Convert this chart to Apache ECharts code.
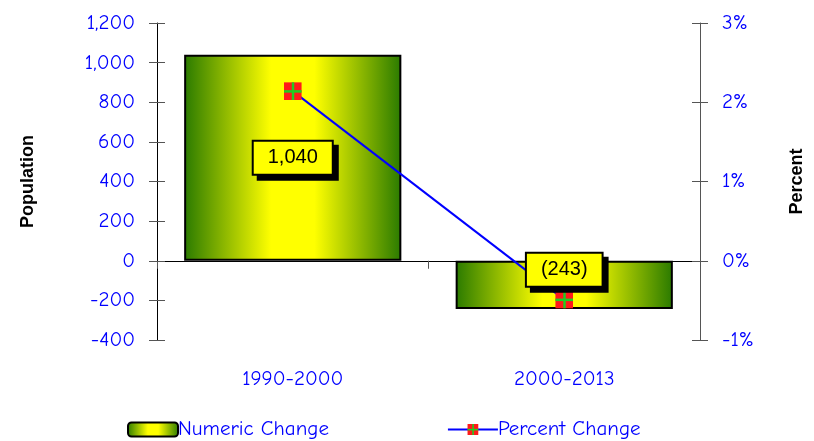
<!DOCTYPE html>
<html><head><meta charset="utf-8">
<script src="https://cdn.jsdelivr.net/npm/echarts@6/dist/echarts.min.js"></script>
<style>html,body{margin:0;padding:0;background:#fff}#c{width:814px;height:441px}</style>
</head><body><div id="c"></div>
<script>
const categories = ['1990-2000', '2000-2013'];
const numericChange = [1040, -243];
const percentChange = [2.14, -0.49];
const popTicks = [-400, 1200, 200];
const pctTicks = [-1, 3, 1];

const FONT = '"Comic Sans MS", "Comic Neue", "DejaVu Sans", sans-serif';
const markerSvg = 'image://data:image/svg+xml;utf8,' + encodeURIComponent(
  '<svg xmlns="http://www.w3.org/2000/svg" width="18" height="18" viewBox="0 0 18 18">' +
  '<rect x="0" y="0" width="18" height="18" fill="#ff1a1a"/>' +
  '<rect x="0" y="8" width="18" height="2.5" fill="#22cc22"/>' +
  '<rect x="8" y="0" width="2.5" height="18" fill="#22cc22"/></svg>');

const barGrad = new echarts.graphic.LinearGradient(0, 0, 1, 0, [
  {offset: 0, color: '#2a7a00'},
  {offset: 0.4, color: '#ffff00'},
  {offset: 0.6, color: '#ffff00'},
  {offset: 1, color: '#2a7a00'}
]);

const fmtNum = v => v < 0 ? '(' + Math.abs(v).toLocaleString('en-US') + ')' : v.toLocaleString('en-US');

const chart = echarts.init(document.getElementById('c'));
chart.setOption({
  animation: false,
  grid: {left: 157, right: 114, top: 23, bottom: 101},
  legend: {
    bottom: -4, left: 122, itemGap: 118, itemWidth: 50, itemHeight: 14,
    textStyle: {color: '#0000ff', fontSize: 21, fontFamily: FONT, padding: [0,0,0,-5]},
    data: ['Numeric Change', 'Percent Change']
  },
  xAxis: [
    {type: 'category', data: categories, position: 'bottom',
     axisLine: {show: false}, axisTick: {show: false},
     axisLabel: {color: '#0000ff', fontSize: 21, fontFamily: FONT, margin: 29}},
    {type: 'category', data: categories, position: 'bottom',
     axisLine: {onZero: true, lineStyle: {color: '#000', width: 1}},
     axisTick: {show: true, length: 8, inside: false, lineStyle: {color: '#555'}},
     axisLabel: {show: false}}
  ],
  yAxis: [
    {type: 'value', min: popTicks[0], max: popTicks[1], interval: popTicks[2], position: 'left',
     name: 'Population', nameLocation: 'middle', nameGap: 120, nameRotate: 90,
     nameTextStyle: {fontSize: 18, fontWeight: 'bold', color: '#000', fontFamily: 'Liberation Sans, Arial, sans-serif'},
     axisLine: {show: true, lineStyle: {color: '#000'}},
     axisTick: {show: true, length: 8, lineStyle: {color: '#555'}},
     splitLine: {show: false},
     axisLabel: {color: '#0000ff', fontSize: 21, fontFamily: FONT, margin: 22,
       formatter: v => v.toLocaleString('en-US')}},
    {type: 'value', min: pctTicks[0], max: pctTicks[1], interval: pctTicks[2], position: 'right',
     name: 'Percent', nameLocation: 'middle', nameGap: 88, nameRotate: 90,
     nameTextStyle: {fontSize: 18, fontWeight: 'bold', color: '#000', fontFamily: 'Liberation Sans, Arial, sans-serif'},
     axisLine: {show: true, lineStyle: {color: '#555'}},
     axisTick: {show: true, length: 8, lineStyle: {color: '#555'}},
     splitLine: {show: false},
     axisLabel: {color: '#0000ff', fontSize: 21, fontFamily: FONT, margin: 22, formatter: v => v + '%'}},
    {type: 'value', min: popTicks[0], max: popTicks[1], interval: popTicks[2], position: 'left',
     axisLine: {show: false}, axisLabel: {show: false}, splitLine: {show: false},
     axisTick: {show: true, inside: true, length: 8, lineStyle: {color: '#555'}}},
    {type: 'value', min: pctTicks[0], max: pctTicks[1], interval: pctTicks[2], position: 'right',
     axisLine: {show: false}, axisLabel: {show: false}, splitLine: {show: false},
     axisTick: {show: true, inside: true, length: 8, lineStyle: {color: '#555'}}}
  ],
  series: [
    {name: 'Numeric Change', type: 'bar', xAxisIndex: 0, yAxisIndex: 0, barCategoryGap: '20%',
     itemStyle: {color: barGrad, borderColor: '#000', borderWidth: 2},
     data: numericChange, z: 2},
    {name: 'Percent Change', type: 'line', xAxisIndex: 0, yAxisIndex: 1, data: percentChange,
     lineStyle: {color: '#0000ff', width: 2}, itemStyle: {color: '#0000ff'},
     symbol: markerSvg, symbolSize: 18, z: 3},
    {name: 'labels', type: 'bar', xAxisIndex: 0, yAxisIndex: 0, barCategoryGap: '20%', barGap: '-100%',
     itemStyle: {color: 'rgba(0,0,0,0)'}, silent: true, z: 5,
     data: numericChange.map((v, i) => ({
       value: v,
       label: {offset: i === 1 ? [0, -15] : [0, 0]}
     })),
     label: {show: true, position: 'inside', formatter: p => fmtNum(p.value),
       fontSize: 20, color: '#000', fontFamily: 'Liberation Sans, Arial, sans-serif',
       backgroundColor: '#ffff00', borderColor: '#000', borderWidth: 2,
       padding: [6, 14, 6, 14],
       shadowColor: '#000', shadowOffsetX: 5, shadowOffsetY: 5, shadowBlur: 0}}
  ]
});
</script></body></html>
